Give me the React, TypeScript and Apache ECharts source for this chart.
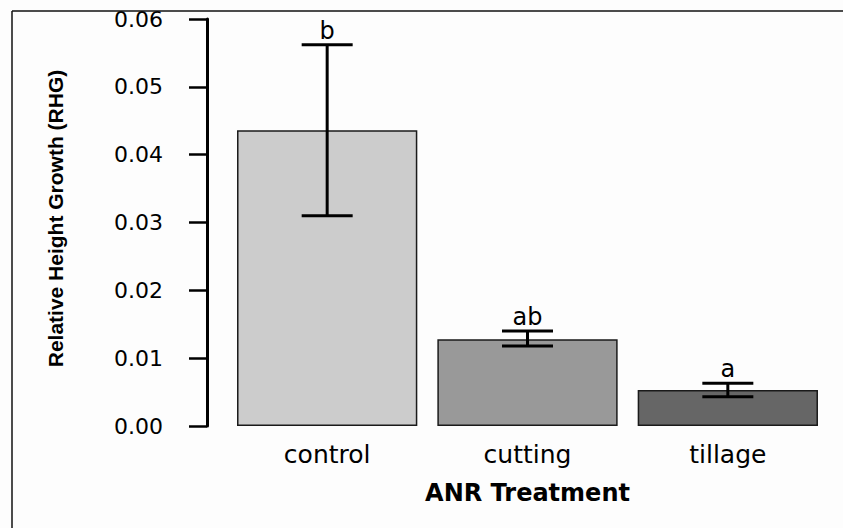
import React, { useEffect, useRef } from "react";
import * as echarts from "echarts";

const categories = ["control", "cutting", "tillage"];
const meanValues = [0.0436, 0.0128, 0.0053];
const lowerValues = [0.0310, 0.0118, 0.0043];
const upperValues = [0.0562, 0.0140, 0.0063];
const groupLetters = ["b", "ab", "a"];
const barColors = ["#cccccc", "#999999", "#666666"];
const yTicks = { min: 0, max: 0.06, interval: 0.01 };

export default function App() {
  const ref = useRef<HTMLDivElement>(null);
  useEffect(() => {
    if (!ref.current) return;
    const chart = echarts.init(ref.current, undefined, { renderer: "svg" });
    const errData = categories.map((c, i) => [i, lowerValues[i], upperValues[i], groupLetters[i]]);
    chart.setOption({
      animation: false,
      backgroundColor: "#fdfdfd",
      grid: { left: 227, right: 15, top: 19, bottom: 102, containLabel: false },
      xAxis: {
        type: "category",
        data: categories,
        axisLine: { show: false },
        axisTick: { show: false },
        axisLabel: {
          color: "#000",
          fontFamily: "DejaVu Sans",
          fontSize: 25,
          margin: 16,
        },
        name: "ANR Treatment",
        nameLocation: "middle",
        nameGap: 55,
        nameTextStyle: {
          color: "#000",
          fontFamily: "DejaVu Sans",
          fontWeight: "bold",
          fontSize: 24,
        },
      },
      yAxis: {
        type: "value",
        min: yTicks.min,
        max: yTicks.max,
        interval: yTicks.interval,
        offset: 20,
        splitLine: { show: false },
        axisLine: { show: true, lineStyle: { color: "#000", width: 3 } },
        axisTick: { show: true, length: 18, lineStyle: { color: "#000", width: 2.5 } },
        axisLabel: {
          color: "#000",
          fontFamily: "DejaVu Sans",
          fontSize: 22,
          margin: 44,
          formatter: (v: number) => v.toFixed(2),
        },
        name: "Relative Height Growth (RHG)",
        nameLocation: "middle",
        nameGap: 141,
        nameRotate: 90,
        nameTextStyle: {
          color: "#000",
          fontFamily: "Liberation Sans",
          fontWeight: "bold",
          fontSize: 21,
          padding: [0, 0, 0, 8],
        },
      },
      series: [
        {
          type: "bar",
          barCategoryGap: "10%",
          data: meanValues.map((v, i) => ({
            value: v,
            itemStyle: { color: barColors[i], borderColor: "#1a1a1a", borderWidth: 1.5 },
          })),
        },
        {
          type: "custom",
          data: errData,
          z: 10,
          renderItem: (params: any, api: any) => {
            const x = api.value(0);
            const lo = api.coord([x, api.value(1)]);
            const hi = api.coord([x, api.value(2)]);
            const half = 25.5;
            const style = { stroke: "#000", lineWidth: 3 };
            return {
              type: "group",
              children: [
                { type: "line", shape: { x1: lo[0], y1: lo[1], x2: hi[0], y2: hi[1] }, style },
                { type: "line", shape: { x1: hi[0] - half, y1: hi[1], x2: hi[0] + half, y2: hi[1] }, style },
                { type: "line", shape: { x1: lo[0] - half, y1: lo[1], x2: lo[0] + half, y2: lo[1] }, style },
                {
                  type: "text",
                  x: hi[0],
                  y: hi[1] - 2,
                  style: {
                    text: groupLetters[params.dataIndex],
                    fill: "#000",
                    font: "24px 'DejaVu Sans'",
                    textAlign: "center",
                    textVerticalAlign: "bottom",
                  },
                },
              ],
            };
          },
        },
      ],
      graphic: [
        {
          type: "rect",
          shape: { x: 834, y: 12, width: 20, height: 600 },
          style: { fill: "#fdfdfd" },
          z: 100,
          silent: true,
        },
        {
          type: "line",
          shape: { x1: 12, y1: 11, x2: 843, y2: 11 },
          style: { stroke: "#111", lineWidth: 1.5 },
          z: 101,
          silent: true,
        },
        {
          type: "line",
          shape: { x1: 12, y1: 11, x2: 12, y2: 528 },
          style: { stroke: "#111", lineWidth: 1.5 },
          z: 101,
          silent: true,
        },
      ],
    });
    return () => chart.dispose();
  }, []);
  return (
    <div
      ref={ref}
      style={{ position: "absolute", left: 0, top: 0, width: 843, height: 528 }}
    />
  );
}
